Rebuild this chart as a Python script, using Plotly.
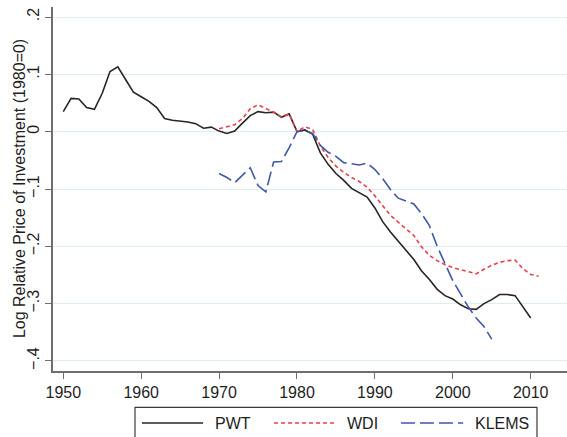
import plotly.graph_objects as go

# Log relative price of investment, normalised so that 1980 = 0
pwt_years = list(range(1950, 2011))
pwt_values = [
    0.035, 0.058, 0.057, 0.042, 0.039, 0.067, 0.105, 0.113, 0.091, 0.069,
    0.061, 0.053, 0.042, 0.023, 0.020, 0.019, 0.017, 0.014, 0.006, 0.008,
    0.001, -0.003, 0.001, 0.015, 0.028, 0.035, 0.033, 0.034, 0.025, 0.031,
    0.000, 0.003, -0.004, -0.037, -0.057, -0.073, -0.085, -0.099, -0.106, -0.114,
    -0.133, -0.157, -0.175, -0.191, -0.205, -0.223, -0.243, -0.258, -0.275, -0.286,
    -0.292, -0.302, -0.309, -0.310, -0.300, -0.293, -0.284, -0.284, -0.286, -0.305,
    -0.325,
]

wdi_years = list(range(1970, 2012))
wdi_values = [
    0.005, 0.009, 0.012, 0.023, 0.040, 0.047, 0.041, 0.034, 0.026, 0.031,
    0.000, 0.0085, 0.004, -0.025, -0.045, -0.060, -0.071, -0.080, -0.087, -0.097,
    -0.112, -0.130, -0.146, -0.158, -0.169, -0.181, -0.201, -0.216, -0.225, -0.232,
    -0.237, -0.241, -0.245, -0.248, -0.240, -0.233, -0.228, -0.225, -0.224, -0.239,
    -0.249, -0.252,
]

klems_years = list(range(1970, 2006))
klems_values = [
    -0.073, -0.080, -0.089, -0.076, -0.063, -0.094, -0.105, -0.053, -0.052, -0.028,
    0.000, 0.002, -0.003, -0.024, -0.036, -0.043, -0.054, -0.056, -0.058, -0.055,
    -0.066, -0.082, -0.101, -0.116, -0.121, -0.126, -0.143, -0.164, -0.200, -0.230,
    -0.260, -0.283, -0.306, -0.325, -0.340, -0.362,
]

series_names = ["PWT", "WDI", "KLEMS"]

x_tick_values = [1950, 1960, 1970, 1980, 1990, 2000, 2010]
y_tick_values = [0.2, 0.1, 0.0, -0.1, -0.2, -0.3, -0.4]
y_tick_labels = [".2", ".1", "0", "\u2212.1", "\u2212.2", "\u2212.3", "\u2212.4"]

y_title = "Log Relative Price of Investment (1980=0)"

FONT = "Liberation Sans, Arial, Helvetica, sans-serif"
TEXT_COLOR = "#1e1e1e"
AXIS_COLOR = "#6e6e6e"
GRID_COLOR = "#dcedf1"

line_styles = [
    dict(color="#262626", width=1.6, dash="solid"),
    dict(color="#e8404a", width=1.6, dash="4px,3px"),
    dict(color="#3f58a8", width=1.6, dash="14px,5px"),
]

fig = go.Figure()
for name, xs, ys, style in zip(
    series_names,
    [pwt_years, wdi_years, klems_years],
    [pwt_values, wdi_values, klems_values],
    line_styles,
):
    fig.add_trace(
        go.Scatter(x=xs, y=ys, mode="lines", name=name, line=style,
                   showlegend=False)
    )

# Boxed legend below the plot, built from shapes and annotations
legend_y = -0.143
legend_items = [
    (0.173, 0.292, 0.311),
    (0.430, 0.547, 0.568),
    (0.677, 0.798, 0.817),
]
shapes = [
    dict(type="rect", xref="paper", yref="paper",
         x0=0.1595, x1=0.9416, y0=-0.21, y1=-0.0998,
         line=dict(color="#3a3a3a", width=1.2), fillcolor="rgba(0,0,0,0)")
]
annotations = []
for name, style, (lx0, lx1, tx) in zip(series_names, line_styles, legend_items):
    shapes.append(
        dict(type="line", xref="paper", yref="paper",
             x0=lx0, x1=lx1, y0=legend_y, y1=legend_y,
             line=dict(color=style["color"], width=style["width"],
                       dash=style["dash"]))
    )
    annotations.append(
        dict(text=name, xref="paper", yref="paper", x=tx, y=legend_y,
             xanchor="left", yanchor="middle", showarrow=False,
             font=dict(family=FONT, size=16, color=TEXT_COLOR))
    )

# Vertical axis title, placed as rotated text beside the tick labels
annotations.append(
    dict(text=y_title, xref="paper", yref="paper", x=-0.066, y=0.5,
         xanchor="center", yanchor="middle", textangle=-90, showarrow=False,
         font=dict(family=FONT, size=16, color=TEXT_COLOR))
)

fig.update_layout(
    width=567,
    height=437,
    margin=dict(l=53, r=0, t=7, b=66),
    paper_bgcolor="white",
    plot_bgcolor="white",
    font=dict(family=FONT, size=16, color=TEXT_COLOR),
    shapes=shapes,
    annotations=annotations,
    showlegend=False,
)

fig.update_xaxes(
    range=[1948.68, 2014.66],
    tickmode="array",
    tickvals=x_tick_values,
    ticks="outside",
    ticklen=6,
    tickcolor=AXIS_COLOR,
    tickwidth=1.2,
    showline=True,
    linecolor=AXIS_COLOR,
    linewidth=1.5,
    showgrid=False,
    zeroline=False,
    tickfont=dict(family=FONT, size=16, color=TEXT_COLOR),
)

fig.update_yaxes(
    range=[-0.4175, 0.2175],
    tickmode="array",
    tickvals=y_tick_values,
    ticktext=y_tick_labels,
    tickangle=-90,
    ticks="outside",
    ticklen=6,
    tickcolor=AXIS_COLOR,
    tickwidth=1.2,
    showline=True,
    linecolor=AXIS_COLOR,
    linewidth=1.5,
    showgrid=True,
    gridcolor=GRID_COLOR,
    gridwidth=1,
    zeroline=False,
    tickfont=dict(family=FONT, size=16, color=TEXT_COLOR),
)

fig.write_html("out.html")
